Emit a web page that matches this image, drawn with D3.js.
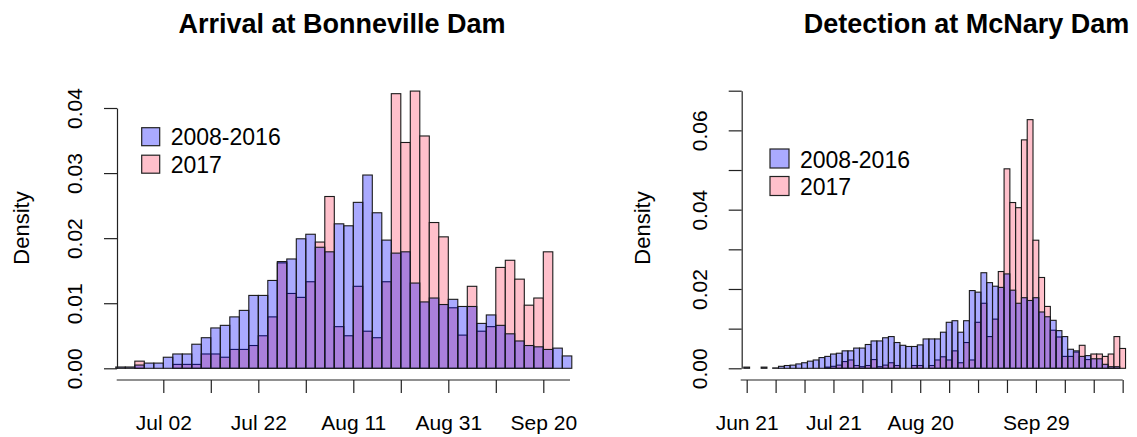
<!DOCTYPE html>
<html>
<head>
<meta charset="utf-8">
<script src="https://cdn.jsdelivr.net/npm/d3@7"></script>
<style>
  body { margin: 0; background: #fff; }
  text { font-family: "Liberation Sans", Arial, sans-serif; fill: #000; }
  .bar { stroke: #1a1a1a; stroke-width: 1.1; }
  .axis path, .axis line { stroke: #222; stroke-width: 1.2; }
</style>
</head>
<body>
<div id="chart"></div>
<script>
var seriesNames = ["2008-2016", "2017"];

// Bonneville: 2-day bins starting Jun 22 (year, month 1-12, day)
var bonnevilleStart = [2017, 6, 22];
var bonnevilleHist = [0.0002, 0.0002, 0.0005, 0.0008, 0.0008, 0.0017, 0.0022, 0.0022, 0.0037, 0.0047,
  0.0062, 0.0066, 0.0079, 0.0089, 0.0112, 0.0112, 0.0135, 0.0164, 0.0168, 0.0199,
  0.0206, 0.0186, 0.0179, 0.0222, 0.0219, 0.0255, 0.0297, 0.0239, 0.0197, 0.0177,
  0.0179, 0.0131, 0.0102, 0.0108, 0.0098, 0.0106, 0.0095, 0.0095, 0.0069, 0.0082,
  0.0066, 0.0053, 0.0042, 0.0035, 0.0033, 0.0029, 0.0031, 0.0019];
var bonneville2017 = [0, 0, 0.0011, 0, 0, 0, 0.0006, 0.0006, 0.0006, 0.0022,
  0.0022, 0.0017, 0.0029, 0.0029, 0.0035, 0.0050, 0.0079, 0.0162, 0.0115, 0.0109,
  0.0133, 0.0194, 0.0264, 0.0064, 0.0050, 0.0126, 0.0057, 0.0047, 0.0133, 0.0422,
  0.0347, 0.0426, 0.0357, 0.0224, 0.0202, 0.0093, 0.0051, 0.0126, 0.0057, 0.0064,
  0.0155, 0.0166, 0.0137, 0.0097, 0.0108, 0.0179, 0, 0];
var bonnevilleTicks = ["Jul 02", "Jul 12", "Jul 22", "Aug 01", "Aug 11", "Aug 21", "Aug 31", "Sep 10", "Sep 20"];
var bonnevilleLabels = ["Jul 02", "Jul 22", "Aug 11", "Aug 31", "Sep 20"];
var bonnevilleYTicks = [0, 0.01, 0.02, 0.03, 0.04];
var bonnevilleYLabels = ["0.00", "0.01", "0.02", "0.03", "0.04"];

// McNary: 2-day bins starting Jun 20
var mcnaryStart = [2017, 6, 20];
var mcnaryHist = [0.0003, 0, 0, 0.0003, 0, 0.0001, 0.0005, 0.0007, 0.0008, 0.0011,
  0.0014, 0.0018, 0.0021, 0.0027, 0.0030, 0.0036, 0.0038, 0.0044, 0.0044, 0.0051,
  0.0051, 0.0060, 0.0069, 0.0069, 0.0077, 0.0080, 0.0065, 0.0058, 0.0055, 0.0055,
  0.0059, 0.0074, 0.0074, 0.0074, 0.0091, 0.0116, 0.0120, 0.0091, 0.0120, 0.0196,
  0.0192, 0.0241, 0.0216, 0.0207, 0.0204, 0.0238, 0.0197, 0.0164, 0.0178, 0.0171,
  0.0178, 0.0142, 0.0130, 0.0121, 0.0095, 0.0080, 0.0048, 0.0044, 0.0030, 0.0032,
  0.0024, 0.0024, 0.0010, 0.0004, 0.0004, 0];
var mcnary2017 = [0, 0, 0, 0, 0, 0, 0, 0, 0, 0,
  0, 0, 0, 0, 0.0003, 0.0005, 0.0008, 0.0017, 0.0021, 0.0007,
  0.0004, 0.0007, 0.0022, 0.0004, 0.0008, 0.0014, 0.0007, 0, 0, 0.0007,
  0.0007, 0, 0.0007, 0.0021, 0.0029, 0.0021, 0.0044, 0.0014, 0.0065, 0.0021,
  0.0116, 0.0164, 0.0080, 0.0124, 0.0244, 0.0503, 0.0418, 0.0405, 0.0576, 0.0627,
  0.0323, 0.0229, 0.0156, 0.0096, 0.0079, 0.0030, 0.0030, 0.0041, 0.0058, 0.0022,
  0.0036, 0.0036, 0.0030, 0.0036, 0.0080, 0.0050];
var mcnaryTicks = ["Jun 21", "Jul 01", "Jul 11", "Jul 21", "Jul 31", "Aug 10", "Aug 20", "Aug 30",
  "Sep 09", "Sep 19", "Sep 29", "Oct 09", "Oct 19", "Oct 29"];
var mcnaryLabels = ["Jun 21", "Jul 21", "Aug 20", "Sep 29"];
var mcnaryYTicks = [0, 0.01, 0.02, 0.03, 0.04, 0.05, 0.06, 0.07];
var mcnaryYLabels = ["0.00", "", "0.02", "", "0.04", "", "0.06", ""];

var parseTick = d3.utcParse("%Y %b %d"),
  fmtTick = d3.utcFormat("%b %d");

var svg = d3.select("#chart").append("svg")
  .attr("width", 1137)
  .attr("height", 437);

var blue = "rgba(0,0,255,0.333)", pink = "#FFC0CB";

drawPanel({
  title: "Arrival at Bonneville Dam", titleX: 342,
  start: bonnevilleStart, hist: bonnevilleHist, y2017: bonneville2017,
  ticks: bonnevilleTicks, labels: bonnevilleLabels,
  yTicks: bonnevilleYTicks, yLabels: bonnevilleYLabels, yMax: 0.04,
  left: 115.8, pxPerDay: 4.75, top: 108, axisX: 117,
  lineFrom: 116.7, lineTo: 570, densityX: 29,
  legendX: 141.7, legendY: 127.7, legendBox: 18
});

drawPanel({
  title: "Detection at McNary Dam", titleX: 966.5,
  start: mcnaryStart, hist: mcnaryHist, y2017: mcnary2017,
  ticks: mcnaryTicks, labels: mcnaryLabels,
  yTicks: mcnaryYTicks, yLabels: mcnaryYLabels, yMax: 0.07,
  left: 743.8, pxPerDay: 2.892, top: 90.7, axisX: 741.7,
  lineFrom: 740.7, lineTo: 1122.7, densityX: 650,
  legendX: 770, legendY: 149, legendBox: 19
});

function drawPanel(p) {
  var t0 = new Date(Date.UTC(p.start[0], p.start[1] - 1, p.start[2]));
  var nDays = p.hist.length * 2;
  var t1 = d3.utcDay.offset(t0, nDays);

  var x = d3.scaleUtc()
    .domain([t0, t1])
    .range([p.left, p.left + nDays * p.pxPerDay]);

  var y = d3.scaleLinear()
    .domain([0, p.yMax])
    .range([368.3, p.top]);

  var bins = function (values) {
    return values.map(function (v, i) {
      return { x0: d3.utcDay.offset(t0, 2 * i), x1: d3.utcDay.offset(t0, 2 * i + 2), v: v };
    });
  };

  // 2017 drawn first (opaque pink), then the 2008-2016 translucent blue on top
  [[p.y2017, pink], [p.hist, blue]].forEach(function (s) {
    svg.append("g").selectAll("rect")
      .data(bins(s[0]).filter(function (d) { return d.v > 0; }))
      .enter().append("rect")
      .attr("class", "bar")
      .attr("x", function (d) { return x(d.x0); })
      .attr("width", function (d) { return x(d.x1) - x(d.x0); })
      .attr("y", function (d) { return y(d.v); })
      .attr("height", function (d) { return y(0) - y(d.v); })
      .style("fill", s[1]);
  });

  // x axis
  var tickDates = p.ticks.map(function (s) { return parseTick(p.start[0] + " " + s); });
  var gx = svg.append("g")
    .attr("class", "axis")
    .attr("transform", "translate(0,380)")
    .call(d3.axisBottom(x)
      .tickValues(tickDates)
      .tickSize(13)
      .tickFormat(function (d) { return p.labels.indexOf(fmtTick(d)) >= 0 ? fmtTick(d) : ""; }));
  gx.select(".domain").remove();
  gx.append("line")
    .attr("x1", p.lineFrom).attr("x2", p.lineTo);
  gx.selectAll(".tick text")
    .attr("y", 50).attr("dy", null)
    .style("font-size", "21px");

  // y axis
  var gy = svg.append("g")
    .attr("class", "axis")
    .attr("transform", "translate(" + p.axisX + ",0)")
    .call(d3.axisLeft(y)
      .tickValues(p.yTicks)
      .tickSize(13)
      .tickSizeOuter(0)
      .tickFormat(function (d, i) { return p.yLabels[i]; }));
  gy.selectAll(".tick text")
    .attr("x", 0).attr("y", -35).attr("dy", null)
    .attr("transform", "rotate(-90)")
    .attr("text-anchor", "middle")
    .style("font-size", "21px");

  svg.append("text")
    .attr("transform", "translate(" + p.densityX + ",228) rotate(-90)")
    .attr("text-anchor", "middle")
    .style("font-size", "22px")
    .text("Density");

  svg.append("text")
    .attr("x", p.titleX)
    .attr("y", 33)
    .attr("text-anchor", "middle")
    .style("font-size", "27px")
    .style("font-weight", "bold")
    .text(p.title);

  var legend = svg.append("g").selectAll("g")
    .data(seriesNames)
    .enter().append("g")
    .attr("transform", function (d, i) { return "translate(" + p.legendX + "," + (p.legendY + i * 27.5) + ")"; });

  legend.append("rect")
    .attr("width", p.legendBox)
    .attr("height", p.legendBox)
    .style("fill", function (d, i) { return i === 0 ? blue : pink; })
    .style("stroke", "#222")
    .style("stroke-width", 1.2);

  legend.append("text")
    .attr("x", p.legendBox + 11)
    .attr("y", p.legendBox - 0.5)
    .style("font-size", "23px")
    .text(function (d) { return d; });
}
</script>
</body>
</html>
